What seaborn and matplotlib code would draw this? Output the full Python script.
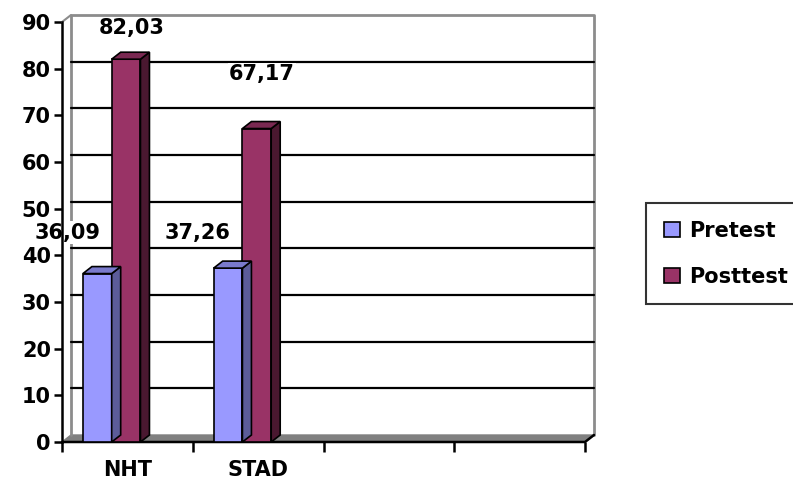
import numpy as np
import pandas as pd
import matplotlib
matplotlib.use("Agg")
import matplotlib.pyplot as plt
from matplotlib.patches import Polygon, Patch
import seaborn as sns

# data
categories = ["NHT", "STAD"]
pretest = [36.09, 37.26]
posttest = [82.03, 67.17]
series = ["Pretest", "Posttest"]
label_text = {"Pretest": ["36,09", "37,26"], "Posttest": ["82,03", "67,17"]}

df = pd.DataFrame({
    "group": categories * 2,
    "score": pretest + posttest,
    "test": ["Pretest"] * 2 + ["Posttest"] * 2,
})

sns.set_style("white")
plt.rcParams["font.family"] = ["DejaVu Sans"]
plt.rcParams["font.weight"] = "bold"
plt.rcParams["text.color"] = "black"
plt.rcParams["xtick.color"] = "black"
plt.rcParams["ytick.color"] = "black"
plt.rcParams["xtick.labelcolor"] = "black"
plt.rcParams["ytick.labelcolor"] = "black"
FS = 15

fig = plt.figure(figsize=(7.93, 4.96), dpi=100)
W, H = 793, 496
ax = fig.add_axes([62 / W, 54 / H, 523 / W, 420 / H])

face = {"Pretest": "#9999FF", "Posttest": "#993366"}
side = {"Pretest": "#5C5C99", "Posttest": "#4A1830"}
top = {"Pretest": "#7A7ACC", "Posttest": "#7A2952"}

ax.set_xlim(-0.5, 3.5)
ax.set_ylim(0, 90)

# 3d depth offset in data units
px_x = 4.0 / 523
px_y = 90.0 / 420
dx, dy = 9 * px_x, 7 * px_y

# back wall, floor and gridlines
wall_l, wall_r = -0.5 + dx, 3.5 + dx
ax.fill([-0.5, 3.5, wall_r, wall_l], [0, 0, dy, dy], color="#808080", zorder=1, clip_on=False)
ax.plot([wall_l, wall_l, wall_r, wall_r], [dy, 90 + dy, 90 + dy, dy], color="#8c8c8c", lw=2, zorder=1, clip_on=False)
ax.plot([-0.5, wall_l], [90, 90 + dy], color="#8c8c8c", lw=1.5, zorder=1, clip_on=False)
for v in range(10, 90, 10):
    ax.plot([wall_l, wall_r], [v + dy, v + dy], color="black", lw=1.6, zorder=1, clip_on=False)
ax.plot([-0.5, 3.5, wall_r], [0, 0, dy], color="black", lw=1.8, zorder=2, clip_on=False)

sns.barplot(data=df, x="group", y="score", hue="test", hue_order=series,
            palette=face, saturation=1, width=0.44, order=categories, ax=ax,
            edgecolor="black", linewidth=1.2, legend=False, zorder=3)

shift = 0.12
for bars, name in zip(ax.containers, series):
    for rect in bars:
        rect.set_x(rect.get_x() - shift)
        x0, x1, h = rect.get_x(), rect.get_x() + rect.get_width(), rect.get_height()
        ax.add_patch(Polygon([(x1, 0), (x1, h), (x1 + dx, h + dy), (x1 + dx, dy)],
                             closed=True, fc=side[name], ec="black", lw=1.2, zorder=3, clip_on=False))
        ax.add_patch(Polygon([(x0, h), (x1, h), (x1 + dx, h + dy), (x0 + dx, h + dy)],
                             closed=True, fc=top[name], ec="black", lw=1.2, zorder=3, clip_on=False))

# data labels (white boxes, Excel-style placement)
lab_dx = {"Pretest": -0.46, "Posttest": 0.03}
lab_dy = {"Pretest": [8.8, 7.6], "Posttest": [6.6, 11.6]}
vals = {"Pretest": pretest, "Posttest": posttest}
for name in series:
    for i, v in enumerate(vals[name]):
        ax.text(i + lab_dx[name], v + lab_dy[name][i], label_text[name][i],
                ha="center", va="center", fontsize=FS, fontweight="bold", zorder=2.2,
                color="black", bbox=dict(fc="white", ec="none", pad=1))

# axes styling
for s in ["top", "right", "bottom"]:
    ax.spines[s].set_visible(False)
ax.spines["left"].set_linewidth(1.8)
ax.spines["left"].set_color("black")
ax.set_yticks(range(0, 100, 10))
ax.tick_params(axis="y", length=6, width=1.8, labelsize=FS, pad=2, direction="out", left=True)
ax.set_xticks(range(4))
ax.set_xticklabels(categories + ["", ""], fontsize=FS, fontweight="bold")
ax.tick_params(axis="x", length=0, pad=13)
ax.set_xticks(np.arange(-0.5, 4.0, 1.0), minor=True)
ax.tick_params(axis="x", which="minor", length=7, width=1.8, direction="out", bottom=True)
for t in ax.get_yticklabels():
    t.set_fontweight("bold")
ax.set_xlabel("")
ax.set_ylabel("")

handles = [Patch(fc=face[n], ec="black", lw=1.2, label=n) for n in series]
leg = fig.legend(handles=handles, loc="upper left", bbox_to_anchor=(646 / W, 1 - 203 / H),
                 borderaxespad=0, frameon=True, fancybox=False, edgecolor="black",
                 handlelength=0.8, handleheight=0.8, handletextpad=0.4,
                 labelspacing=1.25, borderpad=0.85, prop={"weight": "bold", "size": FS})
leg.get_frame().set_linewidth(1.5)

fig.savefig("out.png", dpi=100)
